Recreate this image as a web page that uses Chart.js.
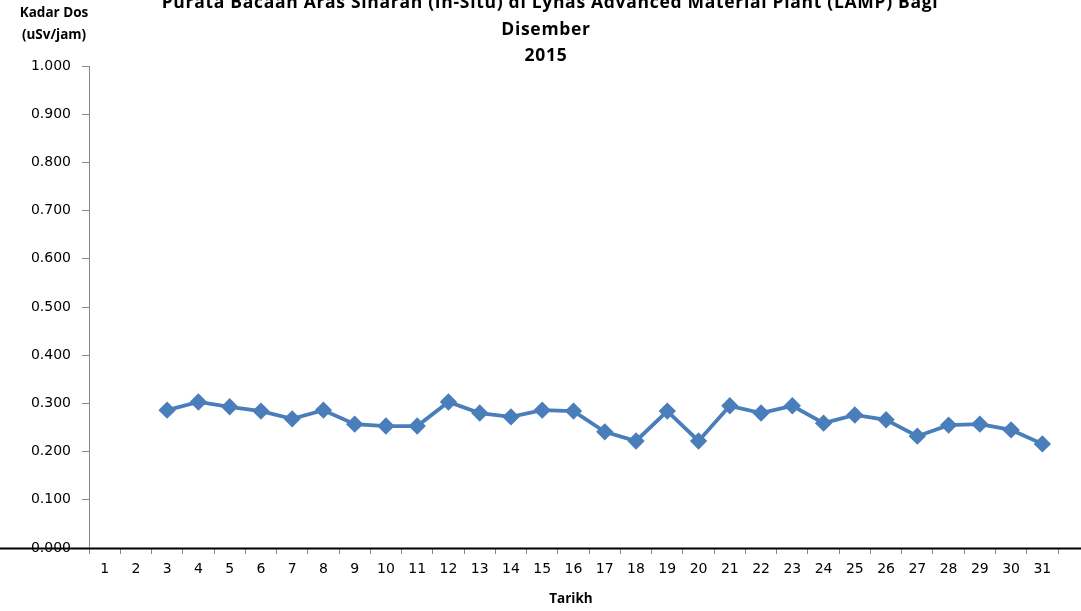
<!DOCTYPE html>
<html>
<head>
<meta charset="utf-8">
<script src="https://cdn.jsdelivr.net/npm/chart.js@4.4.0/dist/chart.umd.min.js"></script>
<style>
  html, body { margin: 0; padding: 0; background: #ffffff; }
  #wrap { width: 1081px; height: 611px; position: relative; }
</style>
</head>
<body>
<div id="wrap"><canvas id="grafikDos"></canvas></div>
<script>
// data dibaca dari gambar asal
const tarikh = ['1','2','3','4','5','6','7','8','9','10','11','12','13','14','15','16',
                '17','18','19','20','21','22','23','24','25','26','27','28','29','30','31'];
const kadarDos = [null, null, 0.286, 0.303, 0.293, 0.284, 0.268, 0.286, 0.257, 0.253, 0.253,
                  0.303, 0.280, 0.272, 0.286, 0.284, 0.241, 0.222, 0.284, 0.222, 0.295,
                  0.280, 0.295, 0.259, 0.276, 0.266, 0.232, 0.255, 0.257, 0.245, 0.216];
const tajukBaris = ['Purata Bacaan Aras Sinaran (In-Situ) di Lynas Advanced Material Plant (LAMP) Bagi',
                    'Disember', '2015'];
const labelPaksiY = ['Kadar Dos', '(uSv/jam)'];
const labelPaksiX = 'Tarikh';

const fontTajuk = 'bold 17.5px "Open Sans"';

// teks tajuk dan garis hitam di bawah
const pluginTeks = {
    id: 'pluginTeks',
    afterDraw(chart) {
        const ctx = chart.ctx;
        const area = chart.chartArea;
        ctx.save();
        // garis hitam tebal merentasi paksi x
        ctx.strokeStyle = '#000000';
        ctx.lineWidth = 2;
        ctx.beginPath();
        ctx.moveTo(0, area.bottom + 0.5);
        ctx.lineTo(chart.width, area.bottom + 0.5);
        ctx.stroke();

        ctx.fillStyle = '#000000';
        ctx.textAlign = 'center';
        ctx.textBaseline = 'middle';
        ctx.font = fontTajuk;
        ctx.letterSpacing = '0.7px';
        ctx.fillText(tajukBaris[0], 550, 3);
        ctx.fillText(tajukBaris[1], 546, 30);
        ctx.fillText(tajukBaris[2], 546, 56);
        ctx.letterSpacing = '0px';

        ctx.font = 'bold 13.5px "Open Sans"';
        ctx.fillText(labelPaksiY[0], 54, 13);
        ctx.fillText(labelPaksiY[1], 54, 35);
        ctx.fillText(labelPaksiX, 571, 599);
        ctx.restore();
    }
};

const ctxGrafik = document.getElementById('grafikDos').getContext('2d');
const grafik = new Chart(ctxGrafik, {
    type: 'line',
    data: {
        labels: tarikh,
        datasets: [{
            data: kadarDos,
            borderColor: '#4a7ebb',
            backgroundColor: '#4a7ebb',
            borderWidth: 3.8,
            pointStyle: 'rectRot',
            pointRadius: 6,
            pointHoverRadius: 6,
            tension: 0,
            spanGaps: false
        }]
    },
    options: {
        responsive: true,
        maintainAspectRatio: false,
        animation: false,
        layout: { padding: { left: 0, right: 23, top: 66, bottom: 0 } },
        plugins: {
            legend: { display: false },
            title: { display: false },
            tooltip: { enabled: false }
        },
        scales: {
            x: {
                offset: true,
                grid: {
                    offset: true,
                    drawOnChartArea: false,
                    drawTicks: true,
                    tickLength: 6,
                    color: '#888888'
                },
                border: { color: '#888888', width: 1 },
                ticks: {
                    color: '#000000',
                    font: { family: 'DejaVu Sans', size: 14 },
                    padding: 7,
                    maxRotation: 0,
                    autoSkip: false
                },
                afterFit(s) { s.height = 63; }
            },
            y: {
                min: 0,
                max: 1,
                grid: {
                    drawOnChartArea: false,
                    drawTicks: true,
                    tickLength: 7,
                    color: '#888888'
                },
                border: { color: '#888888', width: 1 },
                ticks: {
                    stepSize: 0.1,
                    color: '#000000',
                    font: { family: 'DejaVu Sans', size: 14 },
                    padding: 11,
                    callback: v => Number(v).toFixed(3)
                },
                afterFit(s) { s.width = 89; }
            }
        }
    },
    plugins: [pluginTeks]
});
</script>
</body>
</html>
